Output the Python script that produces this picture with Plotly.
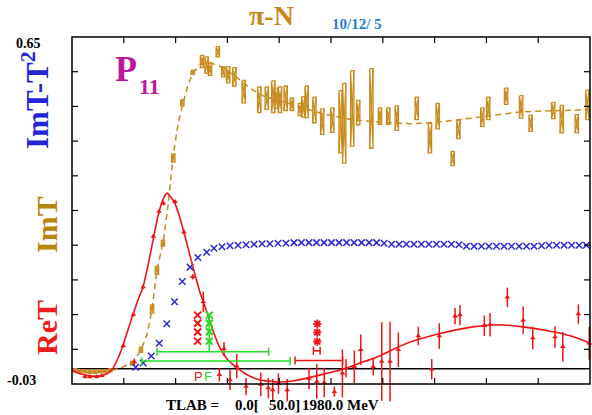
import plotly.graph_objects as go

# ---------------- data (Tlab in MeV, amplitude values) ----------------
imt_curve_t = [0, 70, 147, 185, 232, 266, 290, 309, 328, 351, 371, 390, 409, 429, 448, 467,
               494, 533, 571, 629, 687, 745, 803, 880, 958, 1073, 1189, 1305, 1409, 1575,
               1730, 1884, 2000]
imt_curve_v = [-0.0045, -0.0065, -0.0045, 0.0014, 0.0112, 0.0366, 0.068, 0.117, 0.193, 0.246,
               0.321, 0.413, 0.478, 0.521, 0.556, 0.579, 0.595, 0.599, 0.593, 0.574, 0.550,
               0.533, 0.525, 0.513, 0.501, 0.489, 0.483, 0.480, 0.483, 0.493, 0.503, 0.506, 0.507]

imt_t = [12, 31, 50, 69, 89, 108, 127, 147, 232, 266, 309, 328, 351, 391, 426, 466, 502, 520,
         533, 563, 584, 603, 627, 663, 723, 752, 777, 788, 803, 825, 849, 880, 893, 906, 936,
         966, 1005, 1037, 1051, 1082, 1105, 1156, 1189, 1221, 1254, 1331, 1382, 1412, 1470,
         1492, 1584, 1607, 1676, 1734, 1771, 1858, 1891, 1949, 1990]
imt_v = [-0.003, -0.005, -0.005, -0.006, -0.006, -0.005, -0.005, -0.003, 0.011, 0.037, 0.117,
         0.193, 0.246, 0.413, 0.521, 0.581, 0.602, 0.595, 0.587, 0.621, 0.582, 0.576, 0.572,
         0.543, 0.527, 0.530, 0.533, 0.530, 0.527, 0.530, 0.518, 0.508, 0.513, 0.523, 0.507,
         0.484, 0.487, 0.484, 0.481, 0.510, 0.502, 0.510, 0.495, 0.495, 0.491, 0.510, 0.452,
         0.495, 0.412, 0.469, 0.493, 0.510, 0.534, 0.513, 0.481, 0.506, 0.489, 0.480, 0.517]
imt_err = [0.003, 0.003, 0.003, 0.003, 0.003, 0.003, 0.003, 0.003, 0.004, 0.005, 0.008, 0.008,
           0.006, 0.008, 0.006, 0.004, 0.012, 0.016, 0.012, 0.010, 0.010, 0.016, 0.018, 0.022,
           0.025, 0.022, 0.031, 0.020, 0.025, 0.024, 0.012, 0.012, 0.020, 0.031, 0.025, 0.025,
           0.024, 0.061, 0.078, 0.074, 0.024, 0.078, 0.016, 0.016, 0.024, 0.022, 0.029, 0.025,
           0.014, 0.018, 0.018, 0.022, 0.016, 0.022, 0.016, 0.016, 0.027, 0.018, 0.029]

ret_curve_t = [0, 31, 69, 108, 135, 158, 178, 197, 216, 236, 255, 274, 293, 313, 332, 351, 367,
               382, 398, 417, 436, 456, 475, 494, 514, 533, 552, 571, 602, 629, 676, 726, 792,
               853, 919, 985, 1046, 1112, 1178, 1293, 1421, 1548, 1641, 1741, 1873, 1934, 2000]
ret_curve_v = [-0.003, -0.010, -0.014, -0.014, -0.010, 0.001, 0.021, 0.046, 0.076, 0.107, 0.135,
               0.160, 0.201, 0.252, 0.299, 0.331, 0.344, 0.336, 0.323, 0.295, 0.260, 0.221,
               0.184, 0.150, 0.121, 0.092, 0.064, 0.041, 0.017, 0.005, -0.012, -0.022, -0.026,
               -0.024, -0.017, -0.009, -0.001, 0.011, 0.023, 0.050, 0.069, 0.082, 0.086, 0.082,
               0.071, 0.063, 0.050]

ret_t = [50, 69, 95, 115, 198, 237, 241, 275, 314, 336, 353, 398, 432, 466, 507, 569, 587, 610,
         636, 672, 729, 758, 775, 797, 831, 915, 945, 974, 1013, 1044, 1058, 1090, 1115, 1163,
         1196, 1228, 1260, 1337, 1389, 1418, 1479, 1498, 1592, 1614, 1681, 1742, 1779, 1865,
         1895, 1955, 1997]
ret_v = [-0.016, -0.016, -0.016, -0.014, 0.045, 0.106, 0.013, 0.160, 0.259, 0.308, 0.324, 0.327,
         0.268, 0.180, 0.131, -0.012, 0.039, -0.022, 0.005, -0.035, -0.031, -0.038, -0.042,
         -0.029, -0.042, -0.019, -0.025, -0.027, -0.045, -0.009, 0.001, 0.004, 0.037, 0.004,
         0.014, 0.014, 0.037, 0.064, -0.001, 0.064, 0.103, 0.105, 0.084, 0.086, 0.140, 0.095,
         0.060, 0.062, 0.043, 0.107, 0.050]
ret_err = [0.003, 0.003, 0.003, 0.003, 0.004, 0.004, 0.007, 0.004, 0.004, 0.004, 0.004, 0.004,
           0.005, 0.005, 0.020, 0.013, 0.013, 0.020, 0.024, 0.017, 0.023, 0.020, 0.022, 0.020,
           0.022, 0.021, 0.034, 0.029, 0.010, 0.047, 0.018, 0.032, 0.030, 0.017, 0.077, 0.078,
           0.034, 0.018, 0.020, 0.025, 0.016, 0.020, 0.020, 0.023, 0.019, 0.027, 0.022, 0.021,
           0.029, 0.019, 0.032]

inel_t = [246, 275, 306, 337, 366, 396, 426, 456, 486, 520, 548, 579, 610, 641, 672, 703, 734,
          764, 795, 826, 857, 886, 915, 944, 973, 1002, 1031, 1060, 1089, 1118, 1147, 1176,
          1205, 1234, 1263, 1291, 1320, 1349, 1378, 1407, 1436, 1465, 1494, 1523, 1552, 1581,
          1610, 1639, 1668, 1697, 1726, 1755, 1784, 1813, 1842, 1871, 1900, 1929, 1958, 1986]
inel_v = [0.003, 0.011, 0.025, 0.050, 0.088, 0.131, 0.171, 0.199, 0.218, 0.228, 0.236, 0.239,
          0.241, 0.242, 0.243, 0.244, 0.245, 0.245, 0.246, 0.246, 0.247, 0.247, 0.247, 0.247,
          0.247, 0.247, 0.247, 0.247, 0.247, 0.247, 0.247, 0.247, 0.246, 0.244, 0.244, 0.244,
          0.244, 0.244, 0.244, 0.244, 0.244, 0.244, 0.243, 0.240, 0.240, 0.240, 0.240, 0.240,
          0.240, 0.240, 0.240, 0.240, 0.240, 0.241, 0.242, 0.242, 0.242, 0.242, 0.242, 0.242]

green_lo = [328, 269]
green_hi = [759, 842]
green_v = [0.033, 0.015]
red_bar_lo = [861]
red_bar_hi = [1045]
red_bar_v = [0.016]
red_h_t = [945]
red_h_v = [0.035]
red_h_half = [13]

red_stack_t = [485, 485, 485, 485]
red_stack_v = [0.105, 0.089, 0.072, 0.054]
green_stack_t = [530, 530, 530, 530]
green_stack_v = [0.105, 0.089, 0.073, 0.054]
green_line_t = [530, 530]
green_line_v = [0.033, 0.108]
red_star_t = [947, 947, 947]
red_star_v = [0.088, 0.071, 0.053]

# axis frame values
X_MIN, X_MAX = 0, 2000
Y_MIN, Y_MAX = -0.03, 0.65
x_ticks = [200, 400, 600, 800, 1000, 1200, 1400, 1600, 1800]
y_ticks = [0.038, 0.106, 0.174, 0.242, 0.31, 0.378, 0.446, 0.514, 0.582]

# ---------------- styling / geometry ----------------
W, H = 592, 415
ML, MR, MT, MB = 70, 0, 35, 0
FRAME_L, FRAME_R, FRAME_T, FRAME_B = 72, 590, 37, 384   # frame pixels
XS = (X_MAX - X_MIN) / (FRAME_R - FRAME_L)              # MeV per px
YS = (Y_MAX - Y_MIN) / (FRAME_B - FRAME_T)              # units per px
x_range = [X_MIN - (FRAME_L - ML) * XS, X_MAX + (W - MR - FRAME_R) * XS]
y_range = [Y_MIN - (H - MB - FRAME_B) * YS, Y_MAX + (FRAME_T - MT) * YS]

ORANGE = "#c98b1e"
RED = "#ee1414"
BLUE = "#2a2ad2"
GREEN = "#22dd22"
SERIF = "Liberation Serif"
HW = 6.5          # half width of hourglass boxes (MeV)
TICK_PX = 6


def ax(px):
    return (px - ML) / (W - ML - MR)


def ay(py):
    return (H - MB - py) / (H - MT - MB)


# hourglass boxes for ImT data
hx, hy = [], []
for t, v, e in zip(imt_t, imt_v, imt_err):
    a = (t - HW, v + e)
    b = (t + HW, v + e)
    c = (t + HW, v - e)
    d = (t - HW, v - e)
    for p in (a, b, c, d, a, c):
        hx.append(p[0])
        hy.append(p[1])
    hx.append(None)
    hy.append(None)
    hx += [b[0], d[0], None]
    hy += [b[1], d[1], None]

fig = go.Figure()

fig.add_trace(go.Scatter(x=imt_curve_t, y=imt_curve_v, mode="lines",
                         line=dict(color=ORANGE, width=1.5, dash="6px,4px", shape="spline", smoothing=0.3),
                         hoverinfo="skip"))
fig.add_trace(go.Scatter(x=hx, y=hy, mode="lines", line=dict(color=ORANGE, width=1.3),
                         hoverinfo="skip"))

fig.add_trace(go.Scatter(x=inel_t, y=inel_v, mode="markers",
                         marker=dict(symbol="x-thin", size=6.5, line=dict(color=BLUE, width=1.5)),
                         hoverinfo="skip"))

fig.add_trace(go.Scatter(x=ret_curve_t, y=ret_curve_v, mode="lines",
                         line=dict(color=RED, width=1.6, shape="spline", smoothing=0.5),
                         hoverinfo="skip"))
fig.add_trace(go.Scatter(x=ret_t, y=ret_v, mode="markers",
                         marker=dict(symbol="triangle-up", size=5, color=RED),
                         error_y=dict(type="data", array=ret_err, color=RED, thickness=1.5, width=0),
                         hoverinfo="skip"))

fig.add_trace(go.Scatter(x=[(l + h) / 2 for l, h in zip(green_lo, green_hi)], y=green_v, mode="markers",
                         marker=dict(size=1, color=GREEN),
                         error_x=dict(type="data", array=[(h - l) / 2 for l, h in zip(green_lo, green_hi)],
                                      color=GREEN, thickness=1.5, width=4),
                         hoverinfo="skip"))
fig.add_trace(go.Scatter(x=[(l + h) / 2 for l, h in zip(red_bar_lo, red_bar_hi)], y=red_bar_v, mode="markers",
                         marker=dict(size=1, color=RED),
                         error_x=dict(type="data", array=[(h - l) / 2 for l, h in zip(red_bar_lo, red_bar_hi)],
                                      color=RED, thickness=1.5, width=4),
                         hoverinfo="skip"))
fig.add_trace(go.Scatter(x=red_h_t, y=red_h_v, mode="markers", marker=dict(size=1, color=RED),
                         error_x=dict(type="data", array=red_h_half, color=RED, thickness=1.5, width=4),
                         hoverinfo="skip"))

fig.add_trace(go.Scatter(x=green_line_t, y=green_line_v, mode="lines",
                         line=dict(color=GREEN, width=1.5), hoverinfo="skip"))
fig.add_trace(go.Scatter(x=red_stack_t, y=red_stack_v, mode="markers",
                         marker=dict(symbol="x-thin", size=7, line=dict(color=RED, width=2)),
                         hoverinfo="skip"))
fig.add_trace(go.Scatter(x=green_stack_t, y=green_stack_v, mode="markers",
                         marker=dict(symbol="x-thin", size=7, line=dict(color=GREEN, width=2)),
                         hoverinfo="skip"))
fig.add_trace(go.Scatter(x=red_star_t, y=red_star_v, mode="markers",
                         marker=dict(symbol="asterisk", size=7, line=dict(color=RED, width=1.8)),
                         hoverinfo="skip"))

# frame, zero line and ticks
shapes = [
    dict(type="line", xref="x", yref="y", x0=X_MIN, x1=X_MAX, y0=0, y1=0,
         line=dict(color="black", width=1.5), layer="below"),
    dict(type="rect", xref="x", yref="y", x0=X_MIN, x1=X_MAX, y0=Y_MIN, y1=Y_MAX,
         line=dict(color="black", width=1.5)),
]
for xt in x_ticks:
    shapes.append(dict(type="line", xref="x", yref="y", x0=xt, x1=xt, y0=Y_MIN, y1=Y_MIN + TICK_PX * YS,
                       line=dict(color="black", width=1.2)))
    shapes.append(dict(type="line", xref="x", yref="y", x0=xt, x1=xt, y0=Y_MAX, y1=Y_MAX - TICK_PX * YS,
                       line=dict(color="black", width=1.2)))
for yt in y_ticks:
    shapes.append(dict(type="line", xref="x", yref="y", x0=X_MIN, x1=X_MIN + TICK_PX * XS, y0=yt, y1=yt,
                       line=dict(color="black", width=1.2)))
    shapes.append(dict(type="line", xref="x", yref="y", x0=X_MAX, x1=X_MAX - TICK_PX * XS, y0=yt, y1=yt,
                       line=dict(color="black", width=1.2)))

fig.update_layout(
    width=W, height=H, margin=dict(l=ML, r=MR, t=MT, b=MB),
    paper_bgcolor="white", plot_bgcolor="white", showlegend=False,
    xaxis=dict(range=x_range, visible=False),
    yaxis=dict(range=y_range, visible=False),
    shapes=shapes,
)


def ann(text, px, py, size, color, family=SERIF, angle=0, xanchor="center"):
    fig.add_annotation(text=text, x=ax(px), y=ay(py), xref="paper", yref="paper", showarrow=False,
                       xanchor=xanchor, yanchor="middle", textangle=angle,
                       font=dict(family=family, size=size, color=color))


ann("<b>π-N</b>", 271, 16, 28, "#c8861e")
ann("<b>10/12/ 5</b>", 357, 24.5, 15, "#1f7fd6")
ann("<b>0.65</b>", 28.5, 43.5, 14, "black")
ann("<b>-0.03</b>", 21, 380, 14, "black")
ann("<b>ImT-T<sup>2</sup></b>", 36, 100, 31, "#2323d8", angle=-90)
ann("<b>ImT</b>", 46, 225, 30, "#b8860b", angle=-90)
ann("<b>ReT</b>", 46, 328, 30, "#ee1c1c", angle=-90)
ann("<b>P</b>", 126, 69, 36, "#c0169c")
ann("<b>11</b>", 149, 86, 22, "#c0169c")
ann("<b>TLAB =</b>", 192.5, 405, 15, "black")
ann("<b>0.0[</b>", 247, 405, 15, "black")
ann("<b>50.0]</b>", 267, 405, 15, "black", xanchor="left")
ann("<b>1980.0 MeV</b>", 300, 405, 15, "black", xanchor="left")
ann("P", 198, 376, 13, RED, family="Liberation Sans")
ann("F", 208, 376, 13, GREEN, family="Liberation Sans")

fig.write_html("out.html")
